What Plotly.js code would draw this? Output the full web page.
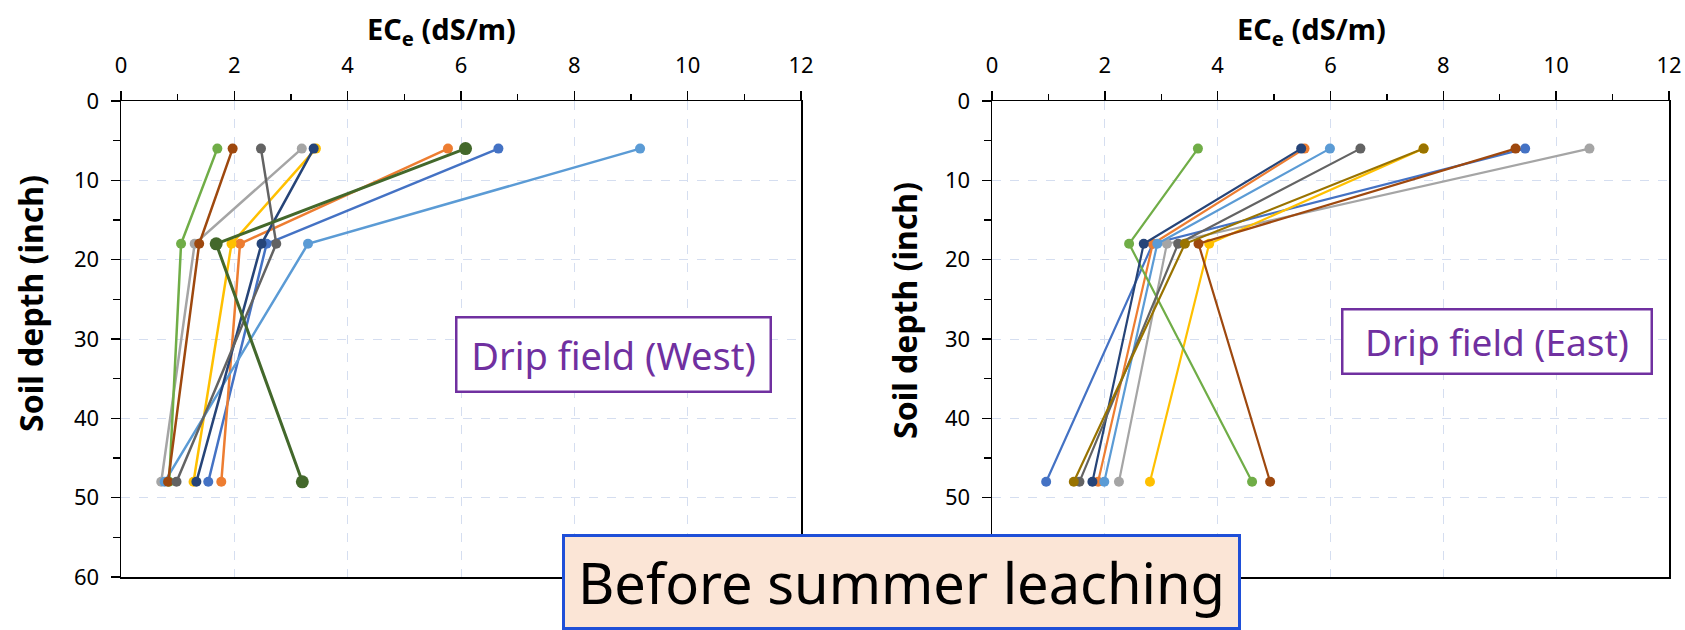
<!DOCTYPE html>
<html>
<head>
<meta charset="utf-8">
<script src="https://cdn.plot.ly/plotly-3.0.1.min.js"></script>
<style>
  html, body { margin: 0; padding: 0; background: #ffffff; }
  #chart { width: 1685px; height: 630px; }
</style>
</head>
<body>
<div id="chart"></div>
<script>
// ---- Data ----
const depths = [6, 18, 48];   // soil depth (inch)

const westColors = ["#4472C4", "#ED7D31", "#A5A5A5", "#FFC000", "#5B9BD5",
                    "#70AD47", "#264478", "#9E480E", "#636363", "#43682B"];
const eastColors = ["#4472C4", "#ED7D31", "#A5A5A5", "#FFC000", "#5B9BD5",
                    "#70AD47", "#264478", "#9E480E", "#636363", "#997300"];

// Drip field (West): ECe (dS/m) at depths 6, 18, 48
const west1  = [6.66, 2.57, 1.54];
const west2  = [5.77, 2.10, 1.77];
const west3  = [3.19, 1.30, 0.71];
const west4  = [3.44, 1.95, 1.28];
const west5  = [9.16, 3.30, 0.77];
const west6  = [1.70, 1.06, 0.85];
const west7  = [3.40, 2.48, 1.33];
const west8  = [1.97, 1.38, 0.83];
const west9  = [2.47, 2.74, 0.98];
const west10 = [6.08, 1.68, 3.20];

// Drip field (East): ECe (dS/m) at depths 6, 18, 48
const east1  = [9.45, 2.85, 0.96];
const east2  = [5.54, 2.85, 1.88];
const east3  = [10.59, 3.10, 2.25];
const east4  = [7.65, 3.85, 2.80];
const east5  = [5.99, 2.93, 1.99];
const east6  = [3.65, 2.43, 4.61];
const east7  = [5.48, 2.69, 1.78];
const east8  = [9.28, 3.66, 4.93];
const east9  = [6.53, 3.30, 1.55];
const east10 = [7.65, 3.42, 1.45];

const xTickVals = [0, 2, 4, 6, 8, 10, 12];
const yTickVals = [0, 10, 20, 30, 40, 50, 60];

const xTitle = "<b>EC<sub>e</sub> (dS/m)</b>";
const yTitle = "<b>Soil depth (inch)</b>";
const westLabel = "Drip field (West)";
const eastLabel = "Drip field (East)";
const mainLabel = "Before summer leaching";

// ---- Build traces ----
const westSeries = [west1, west2, west3, west4, west5, west6, west7, west8, west9, west10];
const eastSeries = [east1, east2, east3, east4, east5, east6, east7, east8, east9, east10];

const traces = [];
westSeries.forEach((vals, i) => {
  const big = (i === 9);
  traces.push({
    type: "scatter", mode: "lines+markers",
    x: vals, y: depths, xaxis: "x", yaxis: "y",
    name: "West " + (i + 1), showlegend: false,
    line: { color: westColors[i], width: big ? 3 : 2.5 },
    marker: { color: westColors[i], size: big ? 13 : 10 }
  });
});
eastSeries.forEach((vals, i) => {
  traces.push({
    type: "scatter", mode: "lines+markers",
    x: vals, y: depths, xaxis: "x2", yaxis: "y2",
    name: "East " + (i + 1), showlegend: false,
    line: { color: eastColors[i], width: 2.2 },
    marker: { color: eastColors[i], size: 10 }
  });
});

// ---- Layout ----
const W = 1685, H = 630;
const fontFam = "Noto Sans, Open Sans, sans-serif";
const gridCol = "#D5DEF0";

function xAxis(domain, anchor) {
  return {
    domain: domain, anchor: anchor, side: "top", range: [0, 12],
    tickvals: xTickVals, ticks: "outside", ticklen: 9, tickwidth: 1.5, tickcolor: "#000",
    minor: { dtick: 1, ticks: "outside", ticklen: 6, tickwidth: 1.2, tickcolor: "#000", showgrid: false },
    showline: true, linecolor: "#000", linewidth: 1.5, mirror: true,
    showgrid: true, gridcolor: gridCol, griddash: "dash", gridwidth: 1,
    zeroline: false, automargin: false, ticklabelstandoff: 9,
    tickfont: { family: fontFam, size: 22, color: "#000" }
  };
}
function yAxis(domain, anchor) {
  return {
    domain: domain, anchor: anchor, range: [60, 0],
    tickvals: yTickVals, ticks: "outside", ticklen: 9, tickwidth: 1.5, tickcolor: "#000",
    minor: { dtick: 5, ticks: "outside", ticklen: 7, tickwidth: 1.2, tickcolor: "#000", showgrid: false },
    showline: true, linecolor: "#000", linewidth: 1.5, mirror: true,
    showgrid: true, gridcolor: gridCol, griddash: "dash", gridwidth: 1,
    zeroline: false, automargin: false, ticklabelstandoff: 7,
    tickfont: { family: fontFam, size: 22, color: "#000" }
  };
}

const yDom = [1 - 577 / H, 1 - 101 / H];

function titleAnn(text, xPx, yPx, size, angle) {
  return {
    xref: "paper", yref: "paper", x: xPx / W, y: 1 - yPx / H,
    xanchor: "center", yanchor: "middle", showarrow: false, textangle: angle,
    text: text, font: { family: fontFam, size: size, color: "#000" }
  };
}

const layout = {
  width: W, height: H,
  margin: { l: 0, r: 0, t: 0, b: 0 },
  paper_bgcolor: "#ffffff", plot_bgcolor: "#ffffff",
  showlegend: false,
  xaxis: xAxis([121 / W, 801 / W], "y"),
  yaxis: yAxis(yDom, "x"),
  xaxis2: xAxis([992 / W, 1669 / W], "y2"),
  yaxis2: yAxis(yDom, "x2"),
  annotations: [
    titleAnn(xTitle, 441, 30, 29, 0),
    titleAnn(xTitle, 1311, 30, 29, 0),
    titleAnn(yTitle, 30, 304, 32, -90),
    titleAnn(yTitle, 904, 310, 32, -90),
    {
      xref: "paper", yref: "paper", x: 613.5 / W, y: 1 - 354.5 / H,
      xanchor: "center", yanchor: "middle", showarrow: false,
      text: westLabel, font: { family: fontFam, size: 38, color: "#7030A0" },
      bordercolor: "#7030A0", borderwidth: 2.5, borderpad: 0,
      bgcolor: "#ffffff", width: 312, height: 72
    },
    {
      xref: "paper", yref: "paper", x: 1497 / W, y: 1 - 341.5 / H,
      xanchor: "center", yanchor: "middle", showarrow: false,
      text: eastLabel, font: { family: fontFam, size: 37, color: "#7030A0" },
      bordercolor: "#7030A0", borderwidth: 2.5, borderpad: 0,
      bgcolor: "#ffffff", width: 307, height: 62
    },
    {
      xref: "paper", yref: "paper", x: 901.5 / W, y: 1 - 582 / H,
      xanchor: "center", yanchor: "middle", showarrow: false,
      text: mainLabel, font: { family: fontFam, size: 56, color: "#000000" },
      bordercolor: "#1F4FD8", borderwidth: 3, borderpad: 0,
      bgcolor: "#FBE5D6", width: 673, height: 90
    }
  ]
};

Plotly.newPlot("chart", traces, layout, { staticPlot: true, displayModeBar: false });
</script>
</body>
</html>
